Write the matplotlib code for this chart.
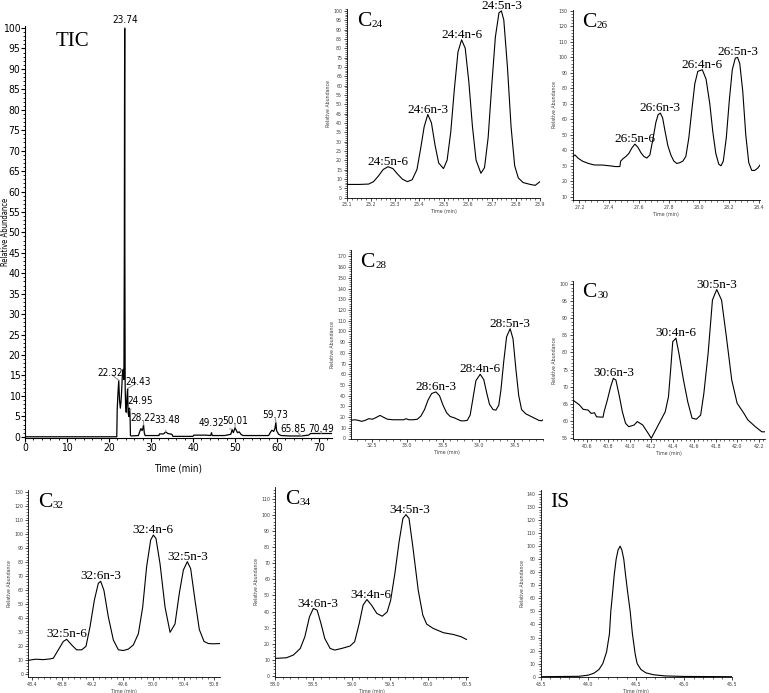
import matplotlib
matplotlib.use("Agg")
import matplotlib.pyplot as plt
from matplotlib.ticker import MultipleLocator, FormatStrFormatter
from matplotlib import font_manager
from matplotlib.font_manager import FontProperties

# ---- data (time in min, relative abundance) ----
tic_t = [0.0, 21.85, 21.95, 22.1, 22.32, 22.5, 22.7, 22.85, 23.0, 23.2, 23.4, 23.55,
         23.65, 23.7, 23.74, 23.78, 23.85, 23.95, 24.1, 24.3, 24.43, 24.55, 24.7,
         24.85, 24.95, 25.05, 25.1, 25.3, 27.0, 27.3, 27.6, 27.9, 28.1, 28.22, 28.4,
         28.6, 31.9, 32.0, 33.0, 33.48, 34.0, 35.0, 35.2, 40.0, 40.2, 43.0, 44.2,
         44.4, 44.6, 47.5, 49.0, 49.32, 49.6, 50.01, 50.3, 50.6, 51.0, 51.5, 52.0,
         58.0, 58.5, 58.8, 59.2, 59.5, 59.73, 59.9, 60.4, 61.0, 63.0, 65.85, 67.5,
         68.0, 73.0]
tic_y = [0.0, 0.0, 6.5, 10, 13.8, 9, 7, 8.5, 11, 15.5, 16.5, 14,
         45, 84, 100, 45, 12, 8, 6, 10, 11.8, 6, 5,
         7, 6.5, 3.5, 0.3, 0.2, 0.3, 1.2, 2.0, 1.5, 2.2, 2.9, 1.0,
         0.3, 0.3, 0.7, 0.7, 1.2, 0.8, 0.6, 0.1, 0.1, 0.4, 0.4, 0.3,
         1.0, 0.3, 0.3, 0.6, 1.8, 1.0, 2.2, 1.6, 1.0, 1.2, 0.5, 0.3,
         0.3, 1.2, 1.6, 1.3, 2.0, 3.5, 1.5, 0.6, 0.3, 0.2, 0.2, 0.4,
         0.8, 0.8]
tic_peak_t = [22.32, 23.74, 24.43, 24.95, 28.22, 33.48, 49.32, 50.01, 59.73, 65.85, 70.49]
tic_peak_y = [13.8, 100, 11.8, 6.5, 2.9, 1.2, 1.8, 2.2, 3.5, 0.2, 0.8]

c24_t = [23.10, 23.15, 23.19, 23.21, 23.23, 23.25, 23.27, 23.29, 23.31, 23.33, 23.35,
         23.37, 23.39, 23.405, 23.42, 23.435, 23.45, 23.465, 23.48, 23.50, 23.515,
         23.53, 23.545, 23.56, 23.575, 23.59, 23.605, 23.62, 23.635, 23.655, 23.67,
         23.685, 23.70, 23.715, 23.73, 23.74, 23.75, 23.765, 23.78, 23.795, 23.81,
         23.83, 23.86, 23.88, 23.90]
c24_y = [7, 7, 7.2, 8.5, 11.5, 15, 16.5, 15.5, 12.5, 9.8, 8.5,
         9.5, 15, 26, 38, 44.5, 40, 28, 18.5, 15.5, 20,
         35, 58, 78, 84.5, 80, 62, 38, 20, 13, 16,
         32, 60, 86, 99, 100, 95, 70, 38, 17, 10.5,
         8, 7, 6.5, 8.5]
c24_names = ["24:5n-6", "24:6n-3", "24:4n-6", "24:5n-3"]
c24_peak_t = [23.27, 23.435, 23.575, 23.74]
c24_peak_y = [16.5, 44.5, 84.5, 100]

c26_t = [27.155, 27.17, 27.19, 27.22, 27.26, 27.30, 27.35, 27.40, 27.44, 27.47, 27.475,
         27.49, 27.51, 27.53, 27.55, 27.57, 27.59, 27.61, 27.63, 27.65, 27.67, 27.69,
         27.71, 27.725, 27.74, 27.755, 27.77, 27.79, 27.81, 27.83, 27.85, 27.87, 27.89,
         27.91, 27.93, 27.95, 27.97, 27.99, 28.02, 28.045, 28.07, 28.09, 28.11, 28.13,
         28.145, 28.16, 28.18, 28.20, 28.22, 28.24, 28.255, 28.27, 28.29, 28.31, 28.33,
         28.35, 28.37, 28.39, 28.405]
c26_y = [36, 37, 35, 33, 31.5, 30.5, 30.5, 30, 29.5, 29.5, 33,
         34.5, 36, 38, 41.5, 44, 42, 38.5, 36, 35, 37, 47,
         58, 63, 64, 61, 53, 43, 37, 33, 31.5, 32, 33,
         36, 48, 66, 83, 91, 92, 86, 70, 52, 38, 31,
         30, 33, 48, 72, 92, 99.5, 100, 96, 78, 50, 32,
         27, 27, 28.5, 30.5]
c26_names = ["26:5n-6", "26:6n-3", "26:4n-6", "26:5n-3"]
c26_peak_t = [27.57, 27.74, 28.02, 28.255]
c26_peak_y = [44, 64, 92, 100]

c28_t = [32.21, 32.26, 32.31, 32.36, 32.41, 32.46, 32.51, 32.56, 32.60, 32.62, 32.66,
         32.72, 32.80, 32.88, 32.95, 32.98, 33.02, 33.08, 33.14, 33.19, 33.24, 33.29,
         33.34, 33.40, 33.45, 33.50, 33.55, 33.60, 33.65, 33.70, 33.75, 33.80, 33.84,
         33.88, 33.92, 33.96, 34.02, 34.07, 34.11, 34.15, 34.20, 34.24, 34.28, 34.31,
         34.35, 34.39, 34.44, 34.48, 34.52, 34.56, 34.60, 34.66, 34.72, 34.78, 34.84,
         34.88, 34.90]
c28_y = [17, 17.5, 17, 16, 17, 18.5, 18, 19.5, 21, 21.5, 20,
         18, 17.5, 17.5, 17.5, 18.5, 17.5, 17.5, 18, 21, 27, 36,
         42, 43.5, 40, 31, 24, 20.5, 19.5, 18, 16.5, 16.5, 17,
         22, 38, 54, 60, 55, 43, 32, 27, 26.5, 31, 45,
         72, 95, 102.5, 93, 65, 40, 27, 23, 21, 19, 17,
         16.5, 17.5]
c28_names = ["28:6n-3", "28:4n-6", "28:5n-3"]
c28_peak_t = [33.40, 34.02, 34.44]
c28_peak_y = [43.5, 60, 102.5]

c30_t = [40.47, 40.53, 40.565, 40.61, 40.64, 40.67, 40.69, 40.75, 40.76, 40.79, 40.82,
         40.846, 40.87, 40.90, 40.93, 40.96, 40.99, 41.04, 41.07, 41.12, 41.17, 41.20,
         41.24, 41.29, 41.33, 41.36, 41.38, 41.40, 41.43, 41.46, 41.50, 41.54, 41.58,
         41.62, 41.66, 41.69, 41.73, 41.77, 41.81, 41.855, 41.90, 41.95, 42.00, 42.06,
         42.10, 42.17, 42.23, 42.255]
c30_y = [66.0, 64.6, 63.3, 63.1, 62.1, 62.3, 61.1, 61.0, 62.6, 66.0, 69.8,
         72.4, 71.9, 67.5, 62.6, 59.2, 58.2, 58.7, 59.7, 58.7, 56.3, 54.8,
         57.2, 60.2, 62.6, 67.0, 74.8, 83.2, 84.2, 79.3, 71.9, 65.5, 60.7,
         60.4, 61.6, 68.0, 79.8, 95.4, 98.5, 95.4, 84.6, 71.9, 65.1, 62.3,
         60.2, 58.2, 56.7, 56.7]
c30_names = ["30:6n-3", "30:4n-6", "30:5n-3"]
c30_peak_t = [40.846, 41.43, 41.81]
c30_peak_y = [72.4, 84.2, 98.5]

c32_t = [48.355, 48.45, 48.553, 48.64, 48.684, 48.75, 48.816, 48.86, 48.925, 48.99,
         49.057, 49.114, 49.167, 49.224, 49.276, 49.307, 49.35, 49.408, 49.474, 49.54,
         49.605, 49.671, 49.737, 49.803, 49.86, 49.912, 49.965, 50.0, 50.035, 50.088,
         50.154, 50.22, 50.285, 50.342, 50.395, 50.447, 50.491, 50.548, 50.605, 50.667,
         50.724, 50.79, 50.877]
c32_y = [10, 10.8, 10.5, 11, 11.5, 17.5, 23.5, 25, 21, 17.5,
         17.5, 20, 34, 53, 65, 66.5, 60, 41, 24.5, 17.5,
         17, 18, 21, 29, 48, 77, 96, 99.5, 97, 79,
         48, 30, 36, 58, 74.5, 80.5, 75.5, 53, 32, 23.5,
         22, 21.8, 22]
c32_names = ["32:5n-6", "32:6n-3", "32:4n-6", "32:5n-3"]
c32_peak_t = [48.86, 49.307, 50.0, 50.447]
c32_peak_y = [25, 66.5, 99.5, 80.5]

c34_t = [58.0, 58.15, 58.24, 58.33, 58.39, 58.45, 58.50, 58.55, 58.60, 58.65, 58.72,
         58.78, 58.87, 58.98, 59.04, 59.10, 59.15, 59.20, 59.26, 59.33, 59.40, 59.465,
         59.51, 59.565, 59.62, 59.67, 59.71, 59.75, 59.80, 59.87, 59.93, 59.98, 60.065,
         60.20, 60.33, 60.43, 60.5]
c34_y = [10.8, 11.2, 12.9, 17, 24.3, 36.7, 41.9, 40.9, 32.6, 23.2, 17,
         16, 17, 18.5, 21.2, 32.6, 44, 47.5, 44, 38.8, 37.1, 39.8,
         47, 63.7, 83.4, 98, 100.4, 98, 80.3, 53.3, 37.8, 32.2, 29.5,
         26.8, 25.7, 24.3, 22.6]
c34_names = ["34:6n-3", "34:4n-6", "34:5n-3"]
c34_peak_t = [58.50, 59.20, 59.71]
c34_peak_y = [41.9, 47.5, 100.4]

is_t = [43.50, 43.90, 44.00, 44.06, 44.11, 44.15, 44.19, 44.22, 44.234, 44.25, 44.27,
        44.29, 44.31, 44.332, 44.35, 44.37, 44.39, 44.41, 44.437, 44.46, 44.49, 44.51,
        44.55, 44.60, 44.68, 44.80, 45.00, 45.50]
is_y = [0, 0.3, 1.2, 2.8, 5.5, 10, 19, 33, 50, 62, 78,
        90, 97, 100, 97, 90, 77, 65, 50, 33, 17, 10,
        5.5, 3, 1.5, 0.6, 0.2, 0]

# ---- fonts: a narrow sans if one is installed, serif for names ----
SERIF = "Liberation Serif"
sans_base = FontProperties(family="Liberation Sans")
NARROW = False
_cands = []
for f in font_manager.fontManager.ttflist:
    narrowish = ("condensed" in str(f.stretch) and "extra" not in str(f.stretch)
                 and "ultra" not in str(f.stretch))
    narrowish = narrowish or "Narrow" in f.name or "Condensed" in f.name
    if narrowish and f.style == "normal" and f.weight in (400, "normal", "regular"):
        _cands.append(f)
for pref in ("Liberation Sans Narrow", "Arial Narrow", "Noto Sans", "DejaVu Sans",
             "Roboto", "Open Sans"):
    hit = [f for f in _cands if f.name.startswith(pref)]
    if hit:
        sans_base = FontProperties(fname=hit[0].fname)
        NARROW = True
        break


def sans(size):
    fp = sans_base.copy()
    fp.set_size(size)
    return fp


W, H = 769, 693
fig = plt.figure(figsize=(W / 100, H / 100), dpi=100)


def add_ax(x0, x1, ytop, ybot):
    # axes box given in pixels of the output image
    return fig.add_axes([x0 / W, 1 - ybot / H, (x1 - x0) / W, (ybot - ytop) / H])


def panel_title(ax, main, sub=None):
    t = ax.text(0.05, 0.985, main, transform=ax.transAxes, ha="left", va="top",
                fontsize=15.5, family=SERIF)
    if sub:
        ax.annotate(sub, xy=(1.0, 0.12), xycoords=t, xytext=(0.3, 0),
                    textcoords="offset points", ha="left", va="bottom",
                    fontsize=8, family=SERIF)


def small_panel(ax, t, y, xlim, ylim, xmaj, xmin, ymaj, ymin, main, sub=None):
    ax.plot(t, y, color="black", lw=0.8)
    ax.set_xlim(*xlim)
    ax.set_ylim(*ylim)
    for s in ("top", "right"):
        ax.spines[s].set_visible(False)
    for s in ("left", "bottom"):
        ax.spines[s].set_linewidth(0.6)
    ax.xaxis.set_major_locator(MultipleLocator(xmaj))
    ax.xaxis.set_minor_locator(MultipleLocator(xmin))
    ax.yaxis.set_major_locator(MultipleLocator(ymaj))
    ax.yaxis.set_minor_locator(MultipleLocator(ymin))
    ax.xaxis.set_major_formatter(FormatStrFormatter("%.1f"))
    ax.yaxis.set_major_formatter(FormatStrFormatter("%d"))
    ax.tick_params(which="major", length=2.5, width=0.5, pad=1, labelcolor="0.25")
    ax.tick_params(which="minor", length=1.2, width=0.4)
    for lab in ax.get_xticklabels() + ax.get_yticklabels():
        lab.set_fontproperties(sans(3.8))
    ax.set_xlabel("Time (min)", fontproperties=sans(3.8), labelpad=1.5, color="0.25")
    ax.set_ylabel("Relative Abundance", fontproperties=sans(3.8), labelpad=1.5,
                  color="0.25")
    panel_title(ax, main, sub)


def peak_labels(ax, names_, pt, py, dx=0):
    for n, t, v in zip(names_, pt, py):
        ax.annotate(n, xy=(t, v), xytext=(dx, -0.8), textcoords="offset points",
                    ha="center", va="bottom", fontsize=9.5, family=SERIF,
                    annotation_clip=False)


# ---- TIC ----
ax = add_ax(25, 331.6, 26, 438)
ax.plot(tic_t, tic_y, color="black", lw=0.9)
ax.set_xlim(0, 73)
ax.set_ylim(-0.3, 100.5)
for s in ("top", "right"):
    ax.spines[s].set_visible(False)
ax.xaxis.set_major_locator(MultipleLocator(10))
ax.xaxis.set_minor_locator(MultipleLocator(2))
ax.yaxis.set_major_locator(MultipleLocator(5))
ax.yaxis.set_minor_locator(MultipleLocator(1))
tick_size = 7.5 if NARROW else 5.8
ax.tick_params(which="major", length=2.6, width=0.8, pad=0.8)
ax.tick_params(which="minor", length=1.6, width=0.6)
for lab in ax.get_xticklabels() + ax.get_yticklabels():
    lab.set_fontproperties(sans(tick_size))
ax.set_xlabel("Time (min)", fontproperties=sans(7))
ax.set_ylabel("Relative Abundance", fontproperties=sans(5.5))
# the label extends leftwards from this anchor, so keep it clear of the edge
ax.yaxis.set_label_coords(-0.049, 0.5)
ax.xaxis.set_label_coords(0.5, -0.062)
ax.text(0.1, 0.985, "TIC", transform=ax.transAxes, ha="left", va="top",
        fontsize=15, family=SERIF)

tic_label_pos = [(20.2, 15.6), (23.8, 102.0), (27.0, 13.4), (27.4, 8.7), (28.2, 4.6),
                 (33.9, 4.2), (44.4, 3.3), (50.0, 3.9), (59.5, 5.3), (63.9, 2.0),
                 (70.6, 2.0)]
for t, v, pos in zip(tic_peak_t, tic_peak_y, tic_label_pos):
    ax.annotate(f"{t:.2f}", xy=(t, v), xytext=pos, ha="center", va="center",
                fontproperties=sans(7.2 if NARROW else 6.8), annotation_clip=False,
                arrowprops=dict(arrowstyle="-", color="0.6", lw=0.8,
                                shrinkA=2, shrinkB=0))

# ---- C24 ----
ax = add_ax(347, 540, 9, 197.5)
small_panel(ax, c24_t, c24_y, (23.1, 23.9), (0, 101), 0.1, 0.02, 5, 1, "C", "24")
peak_labels(ax, c24_names, c24_peak_t, c24_peak_y)

# ---- C26 ----
ax = add_ax(572.7, 760, 10, 200)
small_panel(ax, c26_t, c26_y, (27.155, 28.405), (7.9, 130.6), 0.2, 0.04, 10, 2,
            "C", "26")
peak_labels(ax, c26_names, c26_peak_t, c26_peak_y)

# ---- C28 ----
ax = add_ax(351, 543, 250, 438.5)
small_panel(ax, c28_t, c28_y, (32.21, 34.9), (0, 176), 0.5, 0.1, 10, 2, "C", "28")
peak_labels(ax, c28_names, c28_peak_t, c28_peak_y)

# ---- C30 ----
ax = add_ax(573, 765, 281, 439.3)
small_panel(ax, c30_t, c30_y, (40.47, 42.26), (54.5, 101), 0.2, 0.04, 5, 1, "C", "30")
peak_labels(ax, c30_names, c30_peak_t, c30_peak_y)

# ---- C32 ----
ax = add_ax(28.3, 220, 490, 676.7)
small_panel(ax, c32_t, c32_y, (48.355, 50.877), (-1.7, 131.7), 0.4, 0.08, 10, 2,
            "C", "32")
peak_labels(ax, c32_names, c32_peak_t, c32_peak_y)

# ---- C34 ----
ax = add_ax(275, 468, 487, 676.7)
small_panel(ax, c34_t, c34_y, (58.0, 60.52), (-0.6, 117.6), 0.5, 0.1, 10, 2,
            "C", "34")
peak_labels(ax, c34_names, c34_peak_t, c34_peak_y, dx=3)

# ---- IS ----
ax = add_ax(540.7, 731.7, 490, 676.7)
small_panel(ax, is_t, is_y, (43.5, 45.5), (0, 143), 0.5, 0.1, 10, 2, "IS")

fig.savefig("out.png", dpi=100)
